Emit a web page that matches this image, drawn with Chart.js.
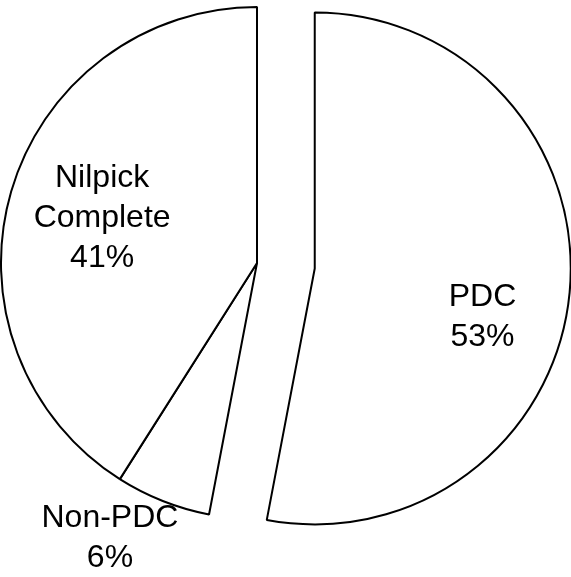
<!DOCTYPE html>
<html>
<head>
<meta charset="utf-8">
<title>PDC share</title>
<script src="https://cdn.jsdelivr.net/npm/chart.js@4/dist/chart.umd.min.js"></script>
<style>
  html, body { margin: 0; padding: 0; background: #fff; }
  #wrap { position: relative; width: 571px; height: 577px; }
</style>
</head>
<body>
<div id="wrap"><canvas id="myChart"></canvas></div>
<script>
const labels = ['PDC', 'Non-PDC', 'Nilpick Complete'];
const values = [53, 6, 41];
// label text split into lines
const labelLines = [['PDC'], ['Non-PDC'], ['Nilpick', 'Complete']];

// how far each slice is pulled out, in px
const sliceOffset = [58, 0, 0];
// label position: fraction of radius along the slice middle, plus a nudge
const labelDist = [0.67, 1.21, 0.63];
const labelNudge = [[-3, 33], [-33, -13], [0, 0]];

// chart.js's own offset also grows the radius, so move the slice ourselves
const explode = {
  id: 'explode',
  afterUpdate(chart) {
    chart.getDatasetMeta(0).data.forEach(function (arc, i) {
      if (!sliceOffset[i] || arc._exploded) return;
      const baseDraw = arc.draw;
      arc.draw = function (ctx) {
        const mid = (this.startAngle + this.endAngle) / 2;
        ctx.save();
        ctx.translate(Math.cos(mid) * sliceOffset[i], Math.sin(mid) * sliceOffset[i]);
        baseDraw.call(this, ctx);
        ctx.restore();
      };
      arc._exploded = true;
    });
  }
};

const pieLabels = {
  id: 'pieLabels',
  afterDatasetsDraw(chart) {
    const ctx = chart.ctx;
    const meta = chart.getDatasetMeta(0);
    ctx.save();
    ctx.fillStyle = '#000';
    ctx.font = '32px "Liberation Sans", Arial, sans-serif';
    ctx.textAlign = 'center';
    ctx.textBaseline = 'middle';
    meta.data.forEach(function (arc, i) {
      const p = arc.getProps(['x', 'y', 'startAngle', 'endAngle', 'outerRadius']);
      const mid = (p.startAngle + p.endAngle) / 2;
      const d = sliceOffset[i] + p.outerRadius * labelDist[i];
      const cx = p.x + Math.cos(mid) * d + labelNudge[i][0];
      const cy = p.y + Math.sin(mid) * d + labelNudge[i][1];
      const lines = labelLines[i].concat([values[i] + '%']);
      const lh = 40;
      const top = cy - (lines.length - 1) * lh / 2;
      lines.forEach(function (t, k) {
        ctx.fillText(t, cx, top + k * lh);
      });
    });
    ctx.restore();
  }
};

const data = {
  labels: labels,
  datasets: [{
    data: values,
    backgroundColor: '#fff',
    borderColor: '#000',
    borderWidth: 2,
    hoverOffset: 0,
    clip: false
  }]
};

const config = {
  type: 'pie',
  data: data,
  options: {
    responsive: true,
    maintainAspectRatio: false,
    animation: false,
    events: [],
    radius: 256,
    layout: { padding: { left: 0, top: 0, right: 57, bottom: 51 } },
    plugins: {
      legend: { display: false },
      tooltip: { enabled: false }
    }
  },
  plugins: [explode, pieLabels]
};

const myChart = new Chart(document.getElementById('myChart'), config);
</script>
</body>
</html>
